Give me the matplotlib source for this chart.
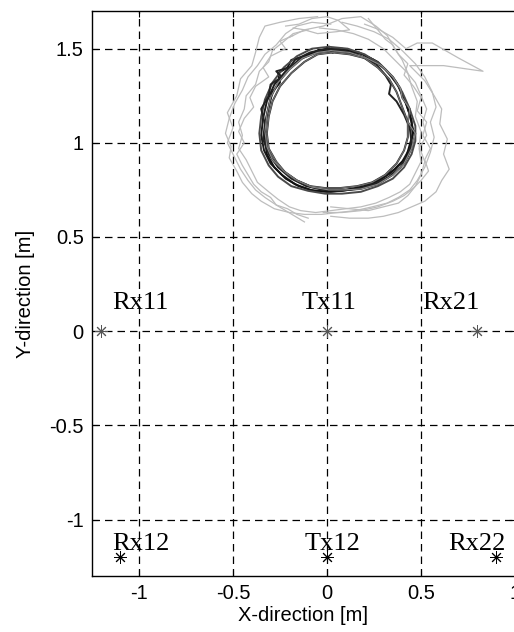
import matplotlib
matplotlib.use("Agg")
import matplotlib.pyplot as plt

# --- antenna positions ---
ant_names = ["Rx11", "Tx11", "Rx21", "Rx12", "Tx12", "Rx22"]
ant_x = [-1.20, 0.00, 0.80, -1.10, 0.00, 0.90]
ant_y = [0.00, 0.00, 0.00, -1.20, -1.20, -1.20]

# --- tracked trajectories (dark = tight loops) ---
d1_x = [0.00, 0.10, 0.19, 0.27, 0.33, 0.38, 0.42, 0.45, 0.455, 0.44, 0.40, 0.34, 0.26, 0.17, 0.08, 0.00, -0.09, -0.17, -0.24, -0.30, -0.335, -0.35, -0.34, -0.32, -0.28, -0.22, -0.15, -0.07, 0.00]
d1_y = [1.50, 1.49, 1.47, 1.43, 1.37, 1.30, 1.21, 1.12, 1.04, 0.97, 0.90, 0.84, 0.79, 0.76, 0.745, 0.74, 0.75, 0.78, 0.83, 0.89, 0.96, 1.04, 1.13, 1.22, 1.31, 1.38, 1.44, 1.48, 1.50]
d2_x = [0.02, 0.12, 0.21, 0.29, 0.35, 0.39, 0.40, 0.44, 0.43, 0.47, 0.45, 0.41, 0.35, 0.27, 0.18, 0.09, 0.01, -0.08, -0.16, -0.23, -0.29, -0.32, -0.33, -0.32, -0.30, -0.26, -0.20, -0.13, -0.05, 0.02]
d2_y = [1.49, 1.48, 1.45, 1.41, 1.35, 1.29, 1.24, 1.18, 1.11, 1.05, 0.97, 0.89, 0.83, 0.78, 0.755, 0.75, 0.75, 0.765, 0.80, 0.85, 0.91, 0.98, 1.06, 1.15, 1.24, 1.32, 1.39, 1.45, 1.48, 1.49]
d3_x = [-0.02, 0.08, 0.17, 0.25, 0.31, 0.37, 0.41, 0.44, 0.46, 0.44, 0.42, 0.36, 0.29, 0.20, 0.10, 0.02, -0.07, -0.15, -0.22, -0.28, -0.32, -0.33, -0.33, -0.31, -0.29, -0.25, -0.26, -0.21, -0.19, -0.12, -0.05, -0.02]
d3_y = [1.49, 1.50, 1.48, 1.44, 1.39, 1.32, 1.24, 1.15, 1.06, 0.99, 0.92, 0.86, 0.81, 0.77, 0.75, 0.74, 0.745, 0.77, 0.81, 0.87, 0.94, 1.02, 1.10, 1.19, 1.27, 1.32, 1.37, 1.40, 1.44, 1.46, 1.49, 1.49]
d4_x = [0.01, 0.11, 0.20, 0.28, 0.35, 0.40, 0.44, 0.47, 0.47, 0.45, 0.41, 0.35, 0.27, 0.18, 0.08, -0.01, -0.10, -0.19, -0.26, -0.31, -0.35, -0.36, -0.35, -0.33, -0.29, -0.23, -0.16, -0.08, 0.01]
d4_y = [1.51, 1.50, 1.47, 1.42, 1.35, 1.27, 1.18, 1.09, 1.01, 0.94, 0.87, 0.81, 0.77, 0.74, 0.73, 0.73, 0.745, 0.77, 0.82, 0.88, 0.96, 1.05, 1.14, 1.23, 1.32, 1.40, 1.46, 1.50, 1.51]
d5_x = [0.03, 0.12, 0.20, 0.27, 0.33, 0.37, 0.40, 0.43, 0.43, 0.41, 0.37, 0.31, 0.24, 0.16, 0.07, -0.01, -0.09, -0.16, -0.22, -0.27, -0.31, -0.32, -0.31, -0.29, -0.25, -0.19, -0.12, -0.05, 0.03]
d5_y = [1.48, 1.47, 1.45, 1.40, 1.34, 1.27, 1.19, 1.11, 1.03, 0.96, 0.89, 0.83, 0.79, 0.77, 0.76, 0.76, 0.77, 0.80, 0.84, 0.90, 0.97, 1.05, 1.14, 1.22, 1.30, 1.37, 1.43, 1.47, 1.48]
d6_x = [0.00, 0.09, 0.18, 0.26, 0.31, 0.34, 0.33, 0.37, 0.41, 0.44, 0.45, 0.43, 0.39, 0.33, 0.25, 0.16, 0.07, -0.02, -0.11, -0.19, -0.26, -0.31, -0.34, -0.33, -0.35, -0.31, -0.30, -0.24, -0.27, -0.20, -0.17, -0.09, 0.00]
d6_y = [1.50, 1.49, 1.46, 1.42, 1.36, 1.31, 1.26, 1.22, 1.15, 1.08, 1.00, 0.93, 0.87, 0.82, 0.78, 0.755, 0.745, 0.75, 0.77, 0.81, 0.87, 0.94, 1.02, 1.10, 1.18, 1.25, 1.31, 1.35, 1.38, 1.40, 1.44, 1.48, 1.50]

# --- light grey trajectories (wider, noisy) ---
g1_x = [0.02, -0.08, -0.16, -0.22, -0.27, -0.33, -0.37, -0.42, -0.45, -0.49, -0.52, -0.54, -0.51, -0.52, -0.48, -0.45, -0.40, -0.35, -0.28, -0.20, -0.12, -0.03, 0.06, 0.15, 0.24, 0.32, 0.38, 0.44, 0.48, 0.52, 0.55, 0.57, 0.55, 0.58, 0.56, 0.52, 0.47, 0.40, 0.33, 0.25, 0.16, 0.08]
g1_y = [1.63, 1.64, 1.62, 1.58, 1.52, 1.47, 1.41, 1.35, 1.28, 1.21, 1.13, 1.05, 0.98, 0.92, 0.85, 0.79, 0.73, 0.69, 0.65, 0.63, 0.62, 0.62, 0.63, 0.64, 0.66, 0.68, 0.71, 0.75, 0.80, 0.87, 0.95, 1.03, 1.11, 1.19, 1.27, 1.35, 1.42, 1.49, 1.55, 1.59, 1.62, 1.64]
g2_x = [-0.10, -0.18, -0.24, -0.29, -0.31, -0.36, -0.38, -0.43, -0.44, -0.47, -0.45, -0.47, -0.43, -0.40, -0.37, -0.31, -0.26, -0.20, -0.14, -0.06, 0.02, 0.10, 0.18, 0.26, 0.33, 0.39, 0.44, 0.47, 0.50, 0.49, 0.53, 0.51, 0.53, 0.50, 0.47, 0.42, 0.36, 0.30, 0.22, 0.14, 0.05, -0.04]
g2_y = [1.60, 1.58, 1.53, 1.49, 1.43, 1.38, 1.31, 1.25, 1.18, 1.11, 1.04, 0.97, 0.91, 0.85, 0.79, 0.74, 0.70, 0.66, 0.64, 0.63, 0.64, 0.65, 0.66, 0.68, 0.71, 0.74, 0.78, 0.84, 0.90, 0.97, 1.04, 1.11, 1.18, 1.25, 1.32, 1.38, 1.44, 1.50, 1.55, 1.58, 1.60, 1.61]
g3_x = [0.20, 0.28, 0.35, 0.42, 0.48, 0.56, 0.70, 0.83, 0.62, 0.44, 0.52, 0.57, 0.61, 0.60, 0.64, 0.62, 0.65, 0.61, 0.58, 0.52, 0.45, 0.38, 0.30, 0.22, 0.12, 0.02]
g3_y = [1.63, 1.60, 1.56, 1.50, 1.53, 1.53, 1.45, 1.38, 1.41, 1.41, 1.33, 1.25, 1.18, 1.10, 1.02, 0.94, 0.86, 0.80, 0.74, 0.69, 0.66, 0.63, 0.61, 0.60, 0.60, 0.61]
g4_x = [-0.05, -0.15, -0.25, -0.33, -0.36, -0.38, -0.40, -0.46, -0.48, -0.53, -0.50, -0.53, -0.49, -0.46, -0.42, -0.38, -0.33, -0.27, -0.22, -0.17, -0.12]
g4_y = [1.67, 1.66, 1.64, 1.62, 1.56, 1.48, 1.41, 1.34, 1.25, 1.16, 1.08, 1.00, 0.92, 0.86, 0.80, 0.75, 0.71, 0.67, 0.64, 0.61, 0.58]
g5_x = [-0.20, -0.12, -0.02, 0.08, 0.18, 0.26, 0.32, 0.36, 0.40, 0.43, 0.45, 0.48, 0.47, 0.50, 0.49, 0.52, 0.50, 0.47, 0.43, 0.38, 0.30, 0.22, 0.12, 0.02]
g5_y = [1.56, 1.60, 1.62, 1.66, 1.67, 1.62, 1.57, 1.50, 1.44, 1.37, 1.30, 1.22, 1.14, 1.06, 0.98, 0.90, 0.83, 0.77, 0.72, 0.68, 0.66, 0.64, 0.65, 0.66]
g6_x = [-0.18, -0.25, -0.22, -0.30, -0.34, -0.31, -0.38, -0.41, -0.39, -0.44, -0.47, -0.44, -0.48, -0.45, -0.42, -0.39, -0.35, -0.30, -0.27, -0.21, -0.16, -0.10]
g6_y = [1.57, 1.54, 1.50, 1.46, 1.40, 1.35, 1.30, 1.24, 1.19, 1.13, 1.06, 1.00, 0.94, 0.88, 0.83, 0.78, 0.74, 0.71, 0.67, 0.65, 0.62, 0.60]
g7_x = [0.22, 0.27, 0.31, 0.35, 0.38, 0.43, 0.41, 0.46, 0.50, 0.48, 0.53, 0.51, 0.55, 0.52, 0.54, 0.50, 0.46, 0.41, 0.35, 0.27, 0.18, 0.08, -0.02]
g7_y = [1.66, 1.60, 1.55, 1.52, 1.47, 1.42, 1.36, 1.30, 1.24, 1.17, 1.11, 1.04, 0.97, 0.91, 0.85, 0.80, 0.76, 0.72, 0.69, 0.66, 0.64, 0.63, 0.63]
g8_x = [-0.22, -0.15, -0.08, 0.00, 0.06, 0.12, 0.05, -0.05, -0.12, -0.18]
g8_y = [1.62, 1.63, 1.66, 1.67, 1.65, 1.60, 1.59, 1.58, 1.60, 1.61]

x_ticks = [-1, -0.5, 0, 0.5, 1]
y_ticks = [-1, -0.5, 0, 0.5, 1, 1.5]

fig = plt.figure(figsize=(5.14, 6.32), dpi=100)
ax = fig.add_axes([92 / 514, 56 / 632, 423 / 514, 565 / 632])

grey_runs = [(g1_x, g1_y), (g2_x, g2_y), (g3_x, g3_y), (g4_x, g4_y),
             (g5_x, g5_y), (g6_x, g6_y), (g7_x, g7_y), (g8_x, g8_y)]
for gx, gy in grey_runs:
    ax.plot(gx, gy, color="#bdbdbd", lw=0.9, zorder=2)

dark_runs = [(d1_x, d1_y), (d2_x, d2_y), (d3_x, d3_y), (d4_x, d4_y),
             (d5_x, d5_y), (d6_x, d6_y)]
dark_cols = ["#1a1a1a", "#3a3a3a", "#111111", "#4a4a4a", "#2a2a2a", "#222222"]
for (dx, dy), c in zip(dark_runs, dark_cols):
    ax.plot(dx, dy, color=c, lw=1.4, zorder=3)
# mid-grey passes inside the ring
ax.plot(d2_x, d2_y, color="#8a8a8a", lw=0.8, zorder=3)
ax.plot(d5_x, d5_y, color="#707070", lw=0.8, zorder=3)

# antennas
for name, x, y in zip(ant_names, ant_x, ant_y):
    col = "#555555" if y == 0 else "black"
    ax.plot(x, y, marker=(8, 2, 0), ms=9, mew=0.7, color=col, zorder=4)

# text offsets (left-aligned, baseline) relative to the markers
label_dx = [0.056, -0.133, -0.295, -0.044, -0.117, -0.256]
label_dy = [0.117, 0.117, 0.117, 0.04, 0.04, 0.04]
for name, x, y, dx, dy in zip(ant_names, ant_x, ant_y, label_dx, label_dy):
    ax.text(x + dx, y + dy, name, family="Liberation Serif", fontsize=19,
            ha="left", va="baseline", zorder=5)

ax.set_xlim(-1.25, 1.0)
ax.set_ylim(-1.3, 1.7)
ax.set_xticks(x_ticks)
ax.set_yticks(y_ticks)
ax.set_xticklabels(["-1", "-0.5", "0", "0.5", "1"])
ax.set_yticklabels(["-1", "-0.5", "0", "0.5", "1", "1.5"])
ax.grid(True, color="black", linestyle=(0, (6, 4)), lw=0.9)
ax.set_axisbelow(True)
ax.tick_params(direction="in", top=True, right=True, length=4, width=0.8,
               labelsize=14.5, pad=6)
for lab in ax.get_xticklabels() + ax.get_yticklabels():
    lab.set_family("Liberation Sans")
for sp in ax.spines.values():
    sp.set_linewidth(1.0)

ax.set_xlabel("X-direction [m]", family="Liberation Sans", fontsize=14.5, labelpad=2)
ax.set_ylabel("Y-direction [m]", family="Liberation Sans", fontsize=14.5, labelpad=10)

fig.savefig("out.png", dpi=100)
